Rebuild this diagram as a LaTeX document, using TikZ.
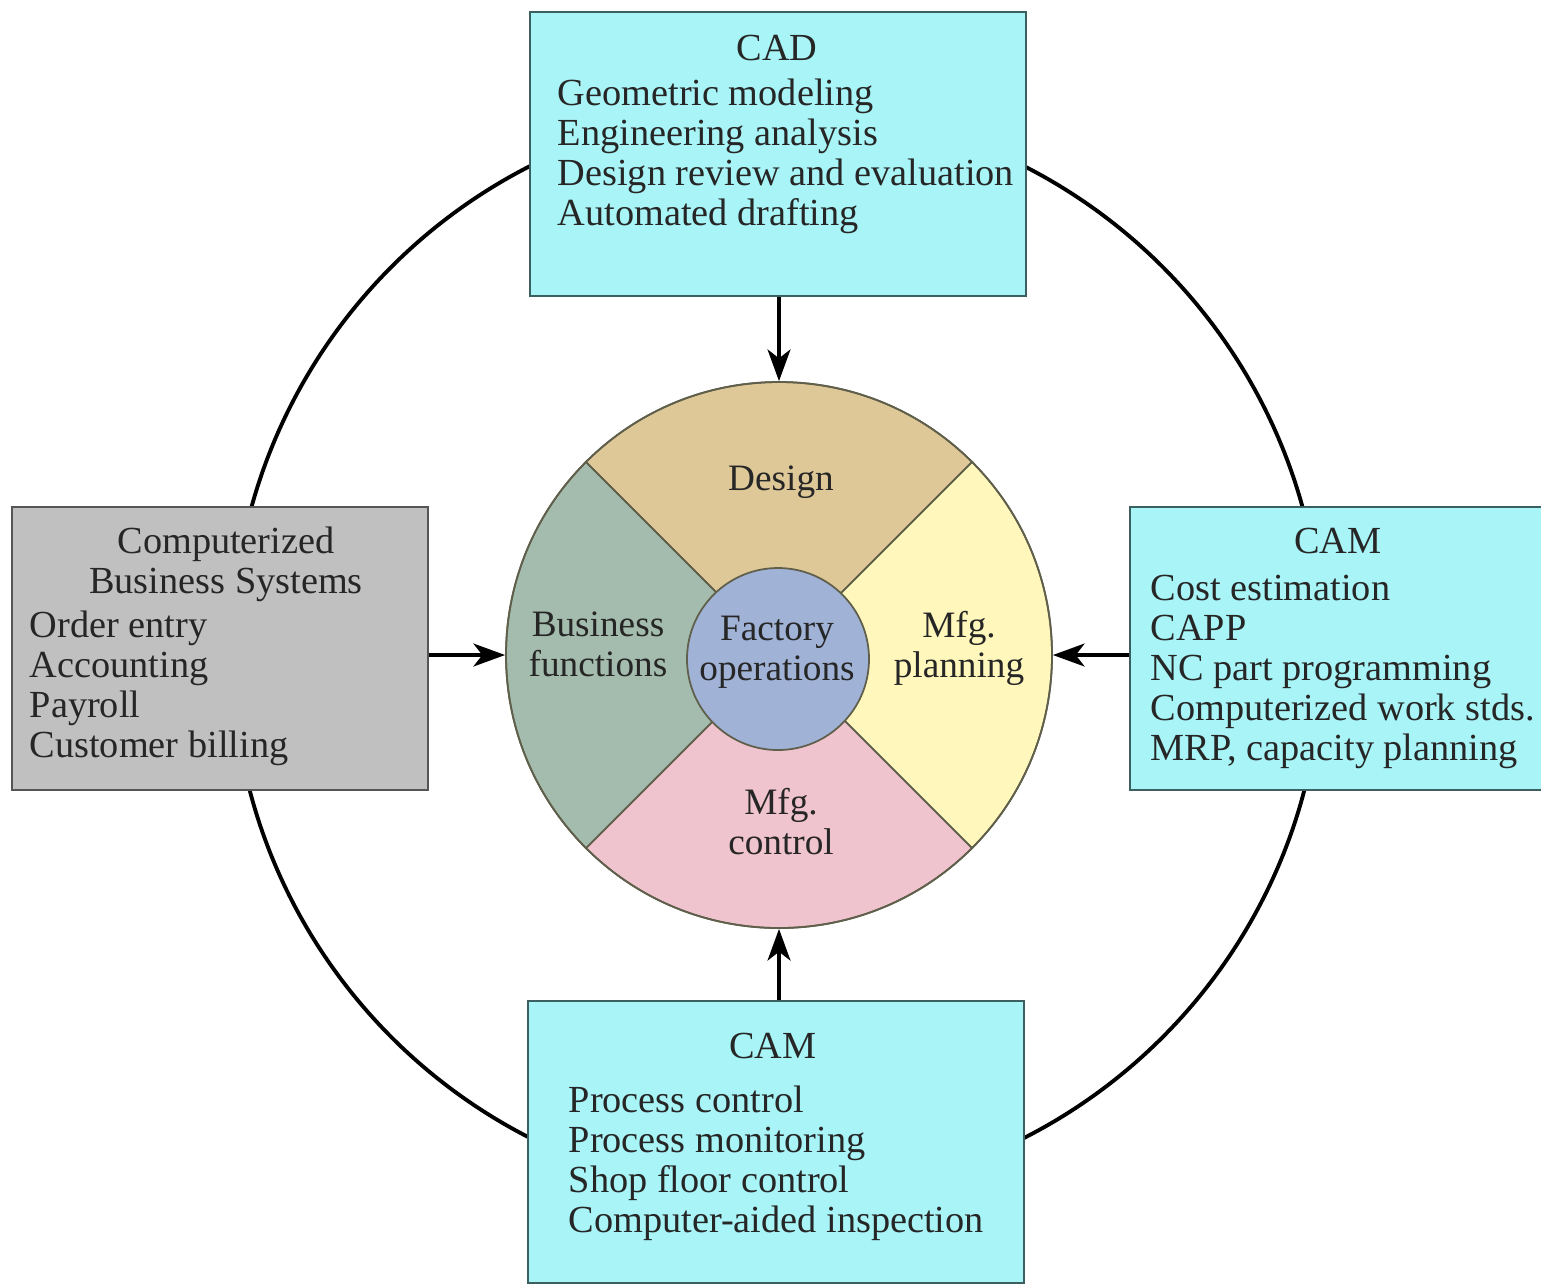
\documentclass[tikz,border=0pt]{standalone}
\usepackage{fontspec}
\setmainfont{Liberation Serif}
\usetikzlibrary{arrows.meta,fit}

\definecolor{camcyan}{RGB}{168,244,246}
\definecolor{camline}{RGB}{60,95,95}
\definecolor{bizgray}{RGB}{192,192,192}
\definecolor{bizline}{RGB}{85,85,85}
\definecolor{designtan}{RGB}{222,200,152}
\definecolor{planyellow}{RGB}{255,247,187}
\definecolor{ctrlpink}{RGB}{240,196,207}
\definecolor{busigreen}{RGB}{164,188,173}
\definecolor{hubblue}{RGB}{160,178,214}
\definecolor{pieline}{RGB}{95,95,75}

\tikzstyle{ring}=[circle,draw,line width=1.1pt,minimum size=109mm,inner sep=0pt]
\tikzstyle{cambox}=[draw=camline,fill=camcyan,line width=0.7pt,inner sep=0pt]
\tikzstyle{bizbox}=[draw=bizline,fill=bizgray,line width=0.7pt,inner sep=0pt]
\tikzstyle{slice}=[draw=pieline,line width=0.5pt]
\tikzstyle{txt}=[inner sep=0pt,anchor=base,text=black!85]
\tikzstyle{list}=[inner sep=0pt,anchor=base west,text=black!85]
\tikzstyle{pietxt}=[inner sep=0pt,anchor=base,text=black!85,font=\fontsize{10.6}{11.38}\selectfont]
\tikzstyle{feed}=[draw,line width=1.1pt,-{Stealth[length=9pt,width=6.5pt,inset=2.5pt]}]

\begin{document}
\begin{tikzpicture}[x=0.1mm,y=-0.1mm,font=\fontsize{10.9}{11.38}\selectfont]
	\useasboundingbox (0,0) rectangle (1541,1285);
	% outer loop behind the boxes
	\node[ring] (ring) at (777,652) {};
	% the four boxes
	\node[cambox,fit={(530,12) (1026,296)}] (cad) {};
	\node[bizbox,fit={(12,507) (428,790)}] (biz) {};
	\node[cambox,fit={(1130,507) (1548,790)}] (camplan) {};
	\node[cambox,fit={(528,1001) (1024,1283)}] (camshop) {};
	% the pie and its slices
	\coordinate (c) at (779,655);
	\foreach \from/\col in {225/designtan, 315/planyellow, 45/ctrlpink, 135/busigreen}
		\path[slice,fill=\col] (c) -- +(\from:273) arc[start angle=\from, delta angle=90, radius=273] -- cycle;
	\node[circle,slice,minimum size=54.6mm,inner sep=0pt] (pie) at (c) {};
	\node[circle,slice,fill=hubblue,minimum size=18.2mm,inner sep=0pt] (hub) at (778,659) {};
	% arrows into the pie
	\path[feed] (cad.south -| pie.north) -- (pie.north);
	\path[feed] (camshop.north -| pie.south) -- (pie.south);
	\path[feed] (biz.east |- pie.west) -- (pie.west);
	\path[feed] (camplan.west |- pie.east) -- (pie.east);
	% box texts
	\node[txt] (cadhead) at (777,60) {CAD};
	\node[list] (cadlist) at (557,105) {\begin{tabular}[t]{@{}l@{}}Geometric modeling\\Engineering analysis\\Design review and evaluation\\Automated drafting\end{tabular}};
	\node[txt] (bizhead) at (226,553) {\begin{tabular}[t]{@{}c@{}}Computerized\\Business Systems\end{tabular}};
	\node[list] (bizlist) at (29,637) {\begin{tabular}[t]{@{}l@{}}Order entry\\Accounting\\Payroll\\Customer billing\end{tabular}};
	\node[txt] (planhead) at (1338,553) {CAM};
	\node[list] (planlist) at (1150,600) {\begin{tabular}[t]{@{}l@{}}Cost estimation\\CAPP\\NC part programming\\Computerized work stds.\\MRP, capacity planning\end{tabular}};
	\node[txt] (shophead) at (773,1058) {CAM};
	\node[list] (shoplist) at (568,1112) {\begin{tabular}[t]{@{}l@{}}Process control\\Process monitoring\\Shop floor control\\Computer-aided inspection\end{tabular}};
	% pie texts
	\node[pietxt] (design) at (781,490) {Design};
	\node[pietxt] (busi) at (598,636) {\begin{tabular}[t]{@{}c@{}}Business\\functions\end{tabular}};
	\node[pietxt] (factory) at (777,640) {\begin{tabular}[t]{@{}c@{}}Factory\\operations\end{tabular}};
	\node[pietxt] (mfgplan) at (959,637) {\begin{tabular}[t]{@{}c@{}}Mfg.\\planning\end{tabular}};
	\node[pietxt] (mfgctrl) at (781,814) {\begin{tabular}[t]{@{}c@{}}Mfg.\\control\end{tabular}};
\end{tikzpicture}
\end{document}
